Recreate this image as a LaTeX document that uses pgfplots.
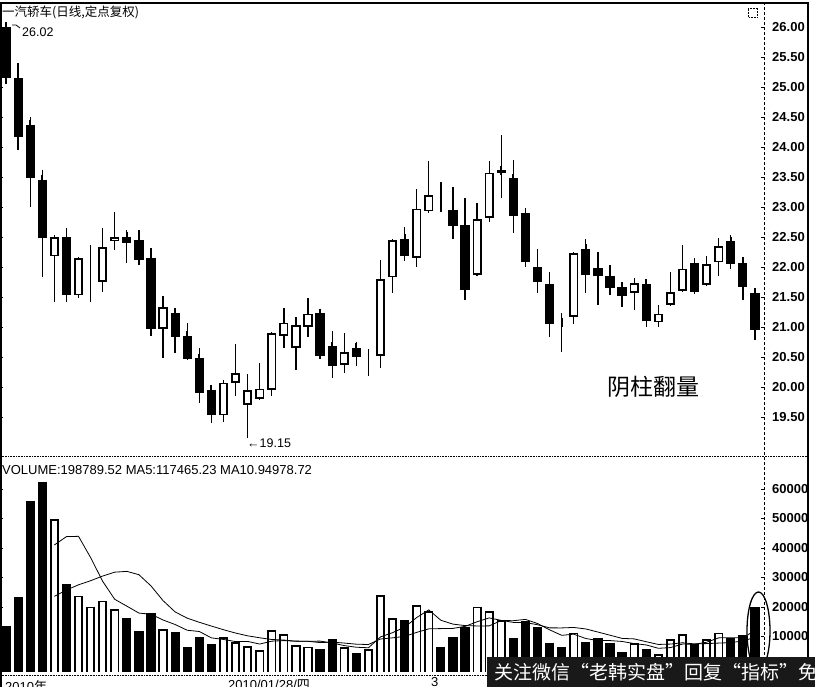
\documentclass[border=0pt]{standalone}
\usepackage{fontspec}
\setmainfont{Liberation Sans}
\newfontfamily\cjk{Noto Sans CJK SC}
\usepackage{pgfplots}
\pgfplotsset{compat=1.18}
\usepackage{pgfplotstable}

% down (black) candles and dojis: i open high low close
\pgfplotstableread{
i O H L C
1 26.00 26.02 25.05 25.15
2 25.15 25.40 23.95 24.17
3 24.37 24.50 23.00 23.48
4 23.45 23.62 21.83 22.48
6 22.50 22.65 21.42 21.53
8 21.63 22.37 21.42 21.63
11 22.50 22.62 22.07 22.40
12 22.45 22.62 22.03 22.12
13 22.15 22.32 20.85 20.97
15 21.23 21.32 20.57 20.83
16 20.85 21.07 20.45 20.47
17 20.48 20.65 19.73 19.90
18 19.95 20.03 19.40 19.53
27 21.23 21.28 20.47 20.52
28 20.68 20.93 20.15 20.35
30 20.65 20.75 20.35 20.50
31 20.52 20.63 20.18 20.52
34 22.47 22.67 22.10 22.18
37 23.00 23.42 22.97 23.00
38 22.95 23.33 22.47 22.68
39 22.70 23.15 21.45 21.62
42 23.61 24.20 23.15 23.56
43 23.48 23.78 22.57 22.85
44 22.90 22.92 22.00 22.08
45 22.00 22.30 21.57 21.75
46 21.72 21.92 20.83 21.05
47 21.08 21.23 20.58 21.08
49 22.30 22.47 21.57 21.87
50 21.98 22.25 21.37 21.85
51 21.85 22.03 21.53 21.65
52 21.67 21.73 21.33 21.52
54 21.72 21.73 21.00 21.10
58 22.07 22.13 21.55 21.58
61 22.43 22.53 21.97 22.05
62 22.07 22.17 21.45 21.67
63 21.57 21.63 20.78 20.95
}\tdown

% up (hollow) candles
\pgfplotstableread{
i O H L C
5 22.18 22.53 21.42 22.50
7 21.53 22.17 21.48 22.15
9 21.75 22.65 21.58 22.33
10 22.43 22.92 22.28 22.50
14 20.97 21.52 20.48 21.33
19 19.53 20.12 19.42 20.07
20 20.07 20.72 19.85 20.23
21 19.70 20.22 19.15 19.95
22 19.80 20.40 19.78 19.97
23 19.95 20.92 19.85 20.90
24 20.85 21.32 20.65 21.07
25 20.65 21.17 20.28 21.03
26 21.00 21.48 20.83 21.22
29 20.37 20.90 20.23 20.58
32 20.52 22.12 20.32 21.80
33 21.83 22.47 21.57 22.45
35 22.15 23.30 22.00 22.97
36 22.93 23.77 22.90 23.20
40 21.87 23.07 21.85 22.80
41 22.82 23.77 22.75 23.57
48 21.17 22.25 21.05 22.23
53 21.57 21.82 21.28 21.73
55 21.08 21.37 21.00 21.22
56 21.37 21.92 21.35 21.58
57 21.60 22.37 21.58 21.97
59 21.70 22.18 21.68 22.05
60 22.08 22.48 21.85 22.35
}\tup

\pgfplotstableread{
i V
1 13500
2 23300
3 56000
4 62500
6 27700
11 16200
12 12000
13 18100
15 11600
16 6500
17 9900
18 7300
27 5700
28 9000
30 4300
34 15600
37 6500
38 9700
39 13100
43 9400
44 15300
45 13100
46 7900
47 6300
49 8000
50 9600
51 7900
52 4800
54 5700
58 7400
61 9400
62 10500
63 19900
}\vdown

\pgfplotstableread{
i V
5 49800
7 23800
8 20100
9 22100
10 19300
14 12400
19 9700
20 8000
21 6800
22 5400
23 12200
24 10700
25 7100
26 6500
29 6300
31 5600
32 24100
33 16200
35 20700
36 18500
40 20100
41 18600
42 15600
48 11300
53 7700
55 3900
56 9100
57 10800
59 9100
60 11300
}\vup

\pgfplotstableread{
i m
5 41020
6 43860
7 43960
8 36780
9 28700
10 22600
11 20300
12 17940
13 17540
14 15600
15 14060
16 12120
17 11700
18 9540
19 9000
20 8280
21 8340
22 7440
23 8420
24 8620
25 8440
26 8380
27 8440
28 7800
29 6920
30 6360
31 6180
32 9860
33 11300
34 13160
35 16440
36 19020
37 15500
38 14200
39 13700
40 13580
41 13600
42 15420
43 15360
44 15800
45 14400
46 12260
47 10400
48 10780
49 9320
50 8620
51 8620
52 8320
53 7600
54 7140
55 6000
56 6240
57 7440
58 7380
59 8060
60 9540
61 9600
62 9540
63 12040
}\mafive

\pgfplotstableread{
i m
5 23610
6 25760
7 27520
8 28910
9 30500
10 31810
11 32080
12 30950
13 27160
14 22150
15 18330
16 16210
17 14820
18 13540
19 12300
20 11170
21 10230
22 9570
23 8980
24 8810
25 8360
26 8360
27 7940
28 8110
29 7770
30 7400
31 7280
32 9150
33 9550
34 10040
35 11400
36 12600
37 12680
38 12750
39 13430
40 15010
41 16310
42 15460
43 14780
44 14750
45 13990
46 12930
47 12910
48 13070
49 12560
50 11510
51 10440
52 9360
53 9190
54 8230
55 7310
56 7430
57 7880
58 7490
59 7600
60 7770
61 7920
62 8490
63 9710
}\maten

\pgfplotsset{
  kbase/.style={
    scale only axis, width=764pt,
    xmin=0.5, xmax=63.75,
    axis line style={draw=none},
    xtick=\empty,
    yticklabel pos=right,
    tick align=inside, major tick length=3pt,
    tick style={black, line width=0.6pt},
    yticklabel style={anchor=west, inner sep=0pt, xshift=8pt,
      font=\fontsize{13}{13}\selectfont\bfseries},
    /pgf/number format/assume math mode=true,
  },
  ebar/.style={black, only marks, mark=*, mark size=0pt,
    mark options={draw opacity=0, fill opacity=0}, forget plot},
}

\begin{document}
\begin{tikzpicture}

% ---------------- price panel ----------------
\begin{axis}[kbase,
  at={(0pt,231pt)}, anchor=south west, height=453pt,
  ymin=18.85, ymax=26.40,
  ytick={19.5,20,20.5,21,21.5,22,22.5,23,23.5,24,24.5,25,25.5,26},
  /pgf/number format/fixed, /pgf/number format/fixed zerofill,
  /pgf/number format/precision=2,
]
% wicks
\addplot[ebar, error bars/.cd, y dir=plus, y explicit, error mark=none,
  error bar style={line width=1.3pt, black}]
  table[x=i, y=L, y error expr=\thisrow{H}-\thisrow{L}] {\tdown};
\addplot[ebar, error bars/.cd, y dir=plus, y explicit, error mark=none,
  error bar style={line width=1.3pt, black}]
  table[x=i, y=L, y error expr=\thisrow{H}-\thisrow{L}] {\tup};
% black bodies (dojis as a line)
\addplot[ebar, error bars/.cd, y dir=plus, y explicit, error mark=-,
  error mark options={mark size=4.6pt, line width=1.8pt, black},
  error bar style={line width=9.2pt, black}]
  table[x=i, y=C, y error expr=\thisrow{O}-\thisrow{C}] {\tdown};
% hollow bodies
\addplot[ebar, error bars/.cd, y dir=plus, y explicit, error mark=none,
  error bar style={line width=9.2pt, black}]
  table[x=i, y=O, y error expr=\thisrow{C}-\thisrow{O}] {\tup};
\addplot[ebar, error bars/.cd, y dir=plus, y explicit, error mark=none,
  error bar style={line width=5.6pt, white}]
  table[x=i, y expr=\thisrow{O}+0.028, y error expr=\thisrow{C}-\thisrow{O}-0.056] {\tup};
\end{axis}

% ---------------- volume panel ----------------
\begin{axis}[kbase,
  at={(0pt,15pt)}, anchor=south west, height=215pt,
  ymin=-2030, ymax=70850,
  ytick={10000,20000,30000,40000,50000,60000},
  scaled y ticks=false,
  /pgf/number format/fixed, /pgf/number format/precision=0,
  /pgf/number format/1000 sep={},
]
\addplot[ebar, error bars/.cd, y dir=minus, y explicit, error mark=none,
  error bar style={line width=9.2pt, black}]
  table[x=i, y=V, y error expr=\thisrow{V}+2030] {\vdown};
\addplot[ebar, error bars/.cd, y dir=minus, y explicit, error mark=none,
  error bar style={line width=9.2pt, black}]
  table[x=i, y=V, y error expr=\thisrow{V}+2030] {\vup};
\addplot[ebar, error bars/.cd, y dir=minus, y explicit, error mark=none,
  error bar style={line width=5.6pt, white}]
  table[x=i, y expr=\thisrow{V}-560, y error expr=\thisrow{V}+2030] {\vup};
\addplot[black, line width=0.8pt, mark=none] table[x=i, y=m] {\mafive};
\addplot[black, line width=0.8pt, mark=none] table[x=i, y=m] {\maten};
\end{axis}

% ---------------- frame ----------------
\draw[line width=1.3pt] (1pt,0pt) -- (1pt,684pt) -- (808pt,684pt) -- (808pt,0pt);
\draw[densely dotted, line width=0.6pt] (0pt,231pt) -- (808pt,231pt);
\draw[densely dashed, line width=0.6pt] (764pt,12pt) -- (764pt,684pt);
\draw[densely dotted, line width=0.6pt] (0pt,12pt) -- (808pt,12pt);
\draw[densely dotted, line width=0.5pt] (748pt,670pt) rectangle (757pt,679pt);

% ---------------- texts ----------------
\node[anchor=west, inner sep=0pt] at (2pt,675pt)
  {\cjk\fontsize{12.5}{13}\selectfont 一汽轿车(日线,定点复权)};
\draw[line width=0.8pt] (12pt,662pt) -- (16pt,662pt) -- (20pt,659pt);
\node[anchor=west, inner sep=0pt] at (22pt,655pt)
  {\fontsize{12.5}{13}\selectfont 26.02};
\node[anchor=west, inner sep=0pt] at (247pt,244pt)
  {\fontsize{12.5}{13}\selectfont ←19.15};
\node[inner sep=0pt] at (653pt,300pt)
  {\cjk\fontsize{23}{24}\selectfont 阴柱翻量};
\node[anchor=west, inner sep=0pt] at (2pt,217pt)
  {\fontsize{13}{14}\selectfont VOLUME:198789.52 MA5:117465.23 MA10.94978.72};
\draw[line width=1.3pt] (758.5pt,56pt) ellipse (11.5pt and 39pt);

\node[anchor=north west, inner sep=0pt] at (5pt,7pt)
  {\fontsize{13}{14}\selectfont 2010{\cjk 年}};
\node[anchor=north west, inner sep=0pt] at (228pt,7pt)
  {\fontsize{13}{14}\selectfont 2010/01/28/{\cjk 四}};
\node[anchor=north west, inner sep=0pt] at (431pt,10pt)
  {\fontsize{13}{14}\selectfont 3};

% watermark band
\fill[black!90] (487pt,0pt) rectangle (815pt,30pt);
\node[anchor=west, inner sep=0pt, text=white] at (494pt,15pt)
  {\cjk\fontsize{19}{20}\selectfont 关注微信“老韩实盘”回复“指标”免费领};

\pgfresetboundingbox
\useasboundingbox (0pt,0pt) rectangle (815pt,687pt);
\end{tikzpicture}
\end{document}
